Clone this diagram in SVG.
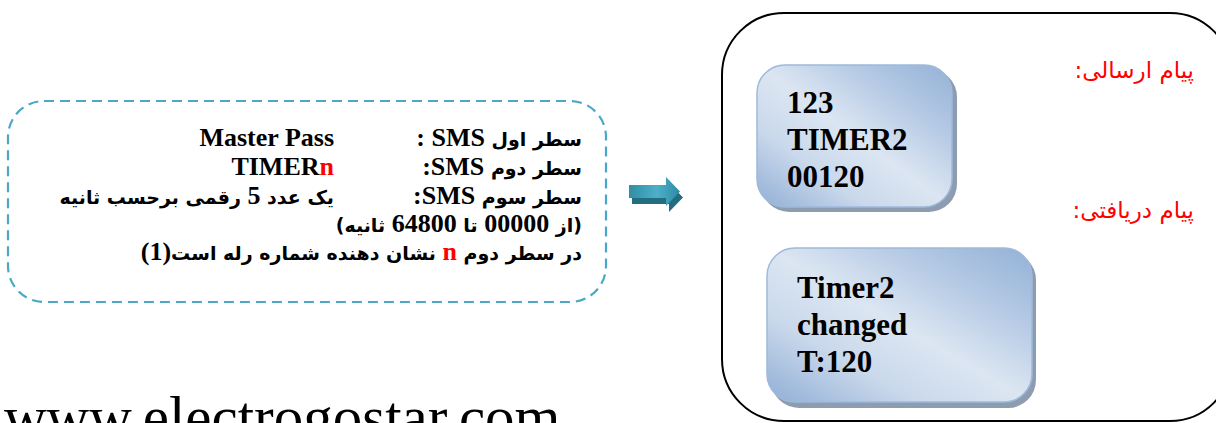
<svg xmlns="http://www.w3.org/2000/svg" width="1216" height="423" viewBox="0 0 1216 423">
  <style>
    .lat { font-family: "Liberation Serif", "Times New Roman", serif; font-weight: bold; }
    .fa { font-family: "DejaVu Sans", "Liberation Sans", sans-serif; font-weight: bold; font-size: 19px; fill: #000; }
    .rtl { direction: rtl; unicode-bidi: embed; text-anchor: start; }
    .red { fill: #ff0000; }
    .lbl { font-family: "DejaVu Sans", "Liberation Sans", sans-serif; font-size: 23px; fill: #ff0000; }
    .msg { font-family: "Liberation Serif", "Times New Roman", serif; font-weight: bold; font-size: 31px; fill: #000; }
    .bubble { fill: url(#bubbleFill); stroke: #9fb9dc; stroke-width: 1.5; }
    .bubble-shadow { fill: #8e9cb0; }
  </style>
  <defs>
    <linearGradient id="bubbleFill" x1="1" y1="0" x2="0" y2="1">
      <stop offset="0" stop-color="#93b1d6"/>
      <stop offset="0.25" stop-color="#b4c9e4"/>
      <stop offset="0.5" stop-color="#dce6f2"/>
      <stop offset="0.72" stop-color="#c9d8eb"/>
      <stop offset="1" stop-color="#90aed5"/>
    </linearGradient>
    <linearGradient id="arrowFace" x1="0" y1="0" x2="1" y2="0">
      <stop offset="0" stop-color="#2f8ea6"/>
      <stop offset="0.55" stop-color="#4db0c8"/>
      <stop offset="1" stop-color="#2e8aa2"/>
    </linearGradient>
  </defs>

  <!-- SMS command format -->
  <g id="sms-format">
    <rect x="8" y="101" width="598" height="201" rx="36" ry="36" fill="none" stroke="#4aa8c5" stroke-width="2.2" stroke-dasharray="10 6"/>
    <text class="fa rtl" x="582" y="146">سطر اول <tspan class="lat" font-size="26">SMS :</tspan></text>
    <text class="lat" x="334" y="146" font-size="26" text-anchor="end">Master Pass</text>

    <text class="fa rtl" x="582" y="175">سطر دوم <tspan class="lat" font-size="26">SMS:</tspan></text>
    <text class="lat" x="334" y="175" font-size="26" text-anchor="end">TIMER<tspan class="red">n</tspan></text>

    <text class="fa rtl" x="582" y="204">سطر سوم <tspan class="lat" font-size="26">SMS:</tspan></text>
    <text class="fa rtl" x="334" y="204">یک عدد <tspan class="lat" font-size="26">5</tspan> رقمی برحسب ثانیه</text>

    <text class="fa rtl" x="582" y="232">(از <tspan class="lat" font-size="26">00000</tspan> تا  <tspan class="lat" font-size="26">64800</tspan> ثانیه)</text>

    <text class="fa rtl" x="582" y="260">در سطر دوم <tspan class="lat red" font-size="26">n</tspan> نشان دهنده شماره رله است<tspan class="lat" font-size="26">(1)</tspan></text>
  </g>

  <!-- flow arrow -->
  <g id="connectors">
    <path d="M632,191 H669 V183 L683,197.5 L669,212 V204 H632 Z" fill="#236d80"/>
    <path d="M629,185 H666 V177 L680,191.5 L666,206 V198 H629 Z" fill="url(#arrowFace)"/>
  </g>

  <!-- phone screen frame -->
  <g id="device">
    <rect x="722" y="13" width="510" height="408" rx="62" ry="62" fill="none" stroke="#000" stroke-width="2"/>
  </g>

  <!-- labels -->
  <g id="labels">
    <text class="lbl rtl" x="1194" y="78">پیام ارسالی:</text>
    <text class="lbl rtl" x="1194" y="218">پیام دریافتی:</text>
  </g>

  <!-- sent message -->
  <g id="sent-msg">
    <rect class="bubble-shadow" x="761" y="69" width="196" height="143" rx="28" ry="28"/>
    <rect class="bubble" x="757" y="65" width="195" height="142" rx="28" ry="28"/>
    <text class="msg" x="787" y="113">123</text>
    <text class="msg" x="787" y="150">TIMER2</text>
    <text class="msg" x="787" y="187">00120</text>
  </g>

  <!-- received message -->
  <g id="received-msg">
    <rect class="bubble-shadow" x="771" y="252" width="265" height="156" rx="28" ry="28"/>
    <rect class="bubble" x="767" y="248" width="265" height="154" rx="28" ry="28"/>
    <text class="msg" x="797" y="298">Timer2</text>
    <text class="msg" x="797" y="335">changed</text>
    <text class="msg" x="797" y="372">T:120</text>
  </g>

  <!-- site address -->
  <g id="site">
    <text x="4" y="437" font-family="Liberation Serif, Times New Roman, serif" font-size="59" fill="#000">www.electrogostar.com</text>
  </g>
</svg>
